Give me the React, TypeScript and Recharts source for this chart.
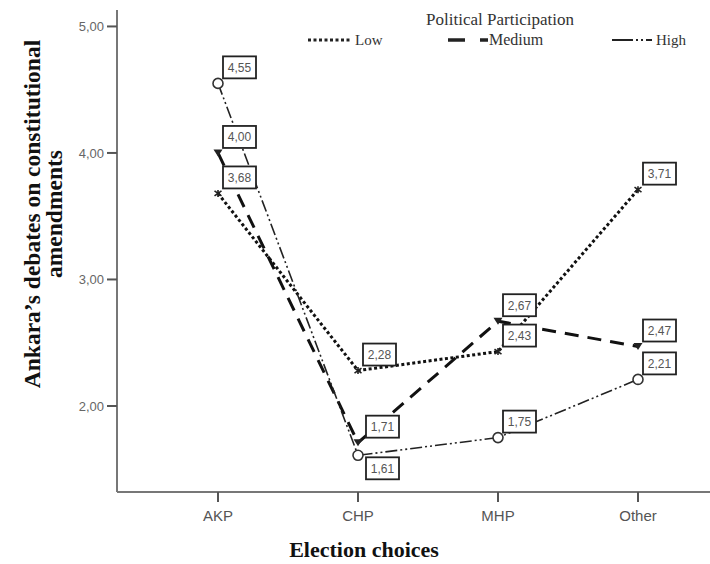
import { LineChart, Line, XAxis, YAxis, LabelList } from 'recharts';

const categories = ['AKP', 'CHP', 'MHP', 'Other'];
const lowValues = [3.68, 2.28, 2.43, 3.71];
const mediumValues = [4.0, 1.71, 2.67, 2.47];
const highValues = [4.55, 1.61, 1.75, 2.21];
const yTicks = [2, 3, 4, 5];

const data = categories.map((c, i) => ({
  choice: c,
  low: lowValues[i],
  medium: mediumValues[i],
  high: highValues[i],
}));

const fmt = (v: number) => v.toFixed(2).replace('.', ',');
const tickFont = '"Liberation Sans", Arial, sans-serif';
const serif = '"Liberation Serif", "Times New Roman", serif';

// boxed value label, sits up-right of the point
const ValueBox = (props: any) => {
  const { x, y, value, index, series } = props;
  if (x == null || y == null) return null;
  let bx = x + 5;
  let by = y - 27;
  if (series === 'medium' && index === 1) bx = x + 8;
  if (series === 'high' && index === 1) {
    bx = x + 8;
    by = y + 2;
  }
  return (
    <g>
      <rect x={bx} y={by} width={33} height={22} fill="#fff" stroke="#222" strokeWidth={1.8} />
      <text x={bx + 16.5} y={by + 15.5} textAnchor="middle" fontSize={12} fontFamily={tickFont} fill="#555">
        {fmt(Number(value))}
      </text>
    </g>
  );
};

const CircleDot = (props: any) => {
  const { cx, cy } = props;
  return <circle cx={cx} cy={cy} r={5} fill="#fff" stroke="#333" strokeWidth={1.6} />;
};

const TriDot = (props: any) => {
  const { cx, cy } = props;
  return <path d={`M${cx - 4.5},${cy - 3.5} L${cx + 4.5},${cy - 3.5} L${cx},${cy + 3.5} Z`} fill="#222" />;
};

const CrossDot = (props: any) => {
  const { cx, cy } = props;
  return (
    <path
      d={`M${cx - 3.5},${cy - 2.5} L${cx + 3.5},${cy + 2.5} M${cx - 3.5},${cy + 2.5} L${cx + 3.5},${cy - 2.5} M${cx},${cy - 3.5} L${cx},${cy + 3.5}`}
      stroke="#222"
      strokeWidth={1.6}
    />
  );
};

const App = () => {
  return (
    <div style={{ position: 'absolute', left: 0, top: 0, width: 710, height: 564, background: '#fff' }}>
      <LineChart width={710} height={564} data={data} margin={{ top: 10, right: 0, bottom: 0, left: 0 }}>
        <XAxis
          dataKey="choice"
          height={72}
          padding={{ left: 101, right: 72 }}
          axisLine={{ stroke: '#777', strokeWidth: 2 }}
          tickLine={{ stroke: '#555', strokeWidth: 2 }}
          tickSize={10}
          tickMargin={8}
          tick={{ fontSize: 15, fill: '#555', fontFamily: tickFont }}
        />
        <YAxis
          width={117}
          domain={[1.32, 5.13]}
          ticks={yTicks}
          allowDataOverflow
          axisLine={{ stroke: '#777', strokeWidth: 2 }}
          tickLine={{ stroke: '#555', strokeWidth: 2 }}
          tickSize={10}
          tickMargin={3}
          tickFormatter={fmt}
          tick={{ fontSize: 13, fill: '#666', fontFamily: tickFont }}
        />
        <Line
          dataKey="low"
          stroke="#111"
          strokeWidth={3}
          strokeDasharray="3 2.5"
          dot={<CrossDot />}
          isAnimationActive={false}
        >
          <LabelList dataKey="low" content={(p: any) => <ValueBox {...p} series="low" />} />
        </Line>
        <Line
          dataKey="medium"
          stroke="#111"
          strokeWidth={3}
          strokeDasharray="14 9"
          dot={<TriDot />}
          isAnimationActive={false}
        >
          <LabelList dataKey="medium" content={(p: any) => <ValueBox {...p} series="medium" />} />
        </Line>
        <Line
          dataKey="high"
          stroke="#222"
          strokeWidth={1.6}
          strokeDasharray="12 3 2 3 2 3"
          dot={<CircleDot />}
          isAnimationActive={false}
        >
          <LabelList dataKey="high" content={(p: any) => <ValueBox {...p} series="high" />} />
        </Line>
      </LineChart>

      <svg width={710} height={564} style={{ position: 'absolute', left: 0, top: 0, pointerEvents: 'none' }}>
        {/* legend */}
        <text x={500} y={25} textAnchor="middle" fontSize={17} fontFamily={serif} fill="#333">
          Political Participation
        </text>
        <line x1={308} x2={352} y1={40} y2={40} stroke="#222" strokeWidth={3} strokeDasharray="3 2.5" />
        <text x={355} y={45} fontSize={15} fontFamily={serif} fill="#333">Low</text>
        <line x1={448} x2={488} y1={40} y2={40} stroke="#222" strokeWidth={3.5} strokeDasharray="17 15" />
        <text x={489} y={45} fontSize={16} fontFamily={serif} fill="#333">Medium</text>
        <line x1={612} x2={652} y1={40} y2={40} stroke="#222" strokeWidth={1.8} strokeDasharray="21 3 2 3 2 3" />
        <text x={656} y={45} fontSize={15} fontFamily={serif} fill="#333">High</text>

        {/* axis titles */}
        <text transform="rotate(-90)" textAnchor="middle" fontSize={23.5} fontWeight="bold" fontFamily={serif} fill="#111">
          <tspan x={-214} y={40}>Ankara’s debates on constitutional</tspan>
          <tspan x={-214} y={62}>amendments</tspan>
        </text>
        <text x={364} y={557} textAnchor="middle" fontSize={22} fontWeight="bold" fontFamily={serif} fill="#111">
          Election choices
        </text>
      </svg>
    </div>
  );
};

export default App;
